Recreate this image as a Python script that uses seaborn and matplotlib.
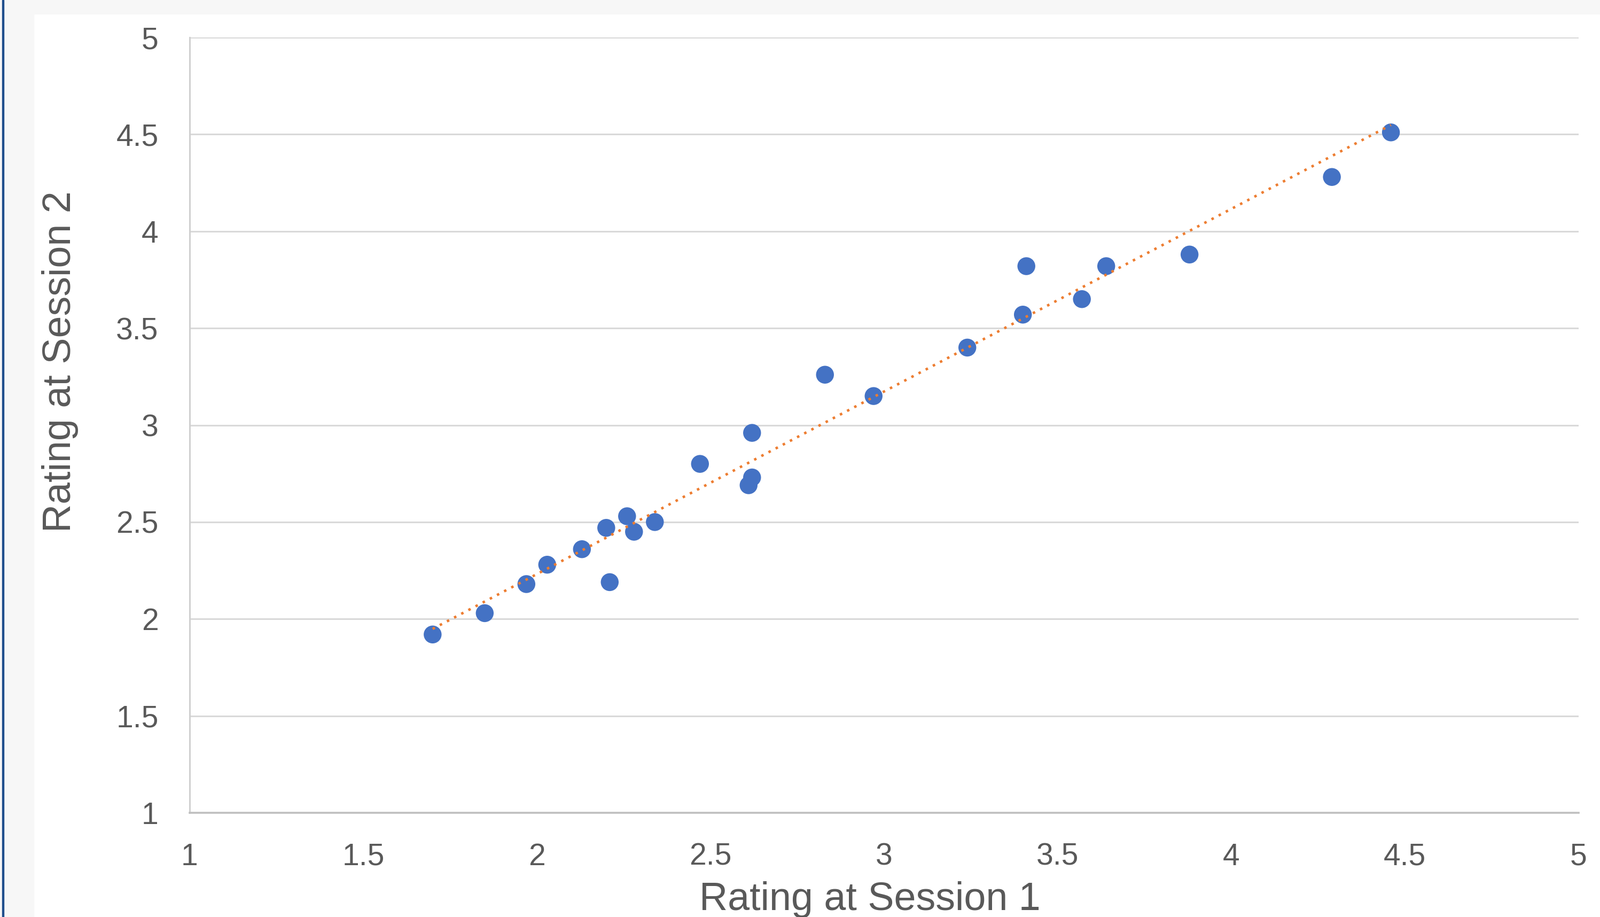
import numpy as np
import pandas as pd
import matplotlib.pyplot as plt
import seaborn as sns
from matplotlib.patches import Rectangle

# Ratings
session1 = [1.70, 1.85, 1.97, 2.03, 2.13, 2.20, 2.21, 2.26, 2.28, 2.34, 2.47, 2.62,
            2.62, 2.61, 2.83, 2.97, 3.24, 3.40, 3.41, 3.57, 3.64, 3.88, 4.29, 4.46]
session2 = [1.92, 2.03, 2.18, 2.28, 2.36, 2.47, 2.19, 2.53, 2.45, 2.50, 2.80, 2.96,
            2.73, 2.69, 3.26, 3.15, 3.40, 3.57, 3.82, 3.65, 3.82, 3.88, 4.28, 4.51]
ticks = [1, 1.5, 2, 2.5, 3, 3.5, 4, 4.5, 5]
tick_labels = ["1", "1.5", "2", "2.5", "3", "3.5", "4", "4.5", "5"]

df = pd.DataFrame({"s1": session1, "s2": session2})

sns.set_style("white")
plt.rcParams['font.family'] = ['Liberation Sans', 'DejaVu Sans']

fig = plt.figure(figsize=(29.95, 17.16), dpi=100)
fig.patch.set_facecolor("white")

# light grey frame strips and the blue edge line
fig.patches.append(Rectangle((0, 0.9848), 1, 0.0152, transform=fig.transFigure,
                             color="#f7f7f7", zorder=0))
fig.patches.append(Rectangle((0, 0), 0.021, 1, transform=fig.transFigure,
                             color="#f7f7f7", zorder=0))
fig.patches.append(Rectangle((0.0013, 0), 0.0012, 1, transform=fig.transFigure,
                             color="#1f4e8c", zorder=1))

ax = fig.add_axes([0.1185, 0.1136, 0.868, 0.8456])

sns.scatterplot(data=df, x="s1", y="s2", ax=ax, s=580, color="#4472C4",
                edgecolor="none", linewidth=0, zorder=3)
sns.regplot(data=df, x="s1", y="s2", ax=ax, scatter=False, ci=None,
            line_kws=dict(color="#ED7D31", linewidth=3.4, linestyle=(0, (1, 2.2)),
                          zorder=4))

ax.set_xlim(1, 5)
ax.set_ylim(1, 5)
ax.set_xticks(ticks)
ax.set_xticklabels(tick_labels)
ax.set_yticks(ticks)
ax.set_yticklabels(tick_labels)

ax.grid(axis="y", color="#d9d9d9", linewidth=2.2)
ax.grid(axis="x", visible=False)
ax.set_axisbelow(True)

for side in ["top", "right"]:
    ax.spines[side].set_visible(False)
ax.spines["left"].set_color("#d0d0d0")
ax.spines["left"].set_linewidth(2.2)
ax.spines["bottom"].set_color("#bfbfbf")
ax.spines["bottom"].set_linewidth(2.6)

ax.tick_params(axis="both", length=0, labelsize=41, labelcolor="#595959")
ax.tick_params(axis="x", pad=40)
ax.tick_params(axis="y", pad=42)
for lbl in ax.get_yticklabels():
    lbl.set_y(lbl.get_position()[1])
    lbl.set_va("center_baseline")

ax.set_xlabel("Rating at Session 1", fontsize=53, color="#595959")
ax.set_ylabel("Rating at Session 2", fontsize=53, color="#595959")
ax.xaxis.set_label_coords(0.49, -0.088)
ax.xaxis.label.set_va("top")
ax.yaxis.set_label_coords(-0.080, 0.582)

fig.savefig("out.png", dpi=100)
